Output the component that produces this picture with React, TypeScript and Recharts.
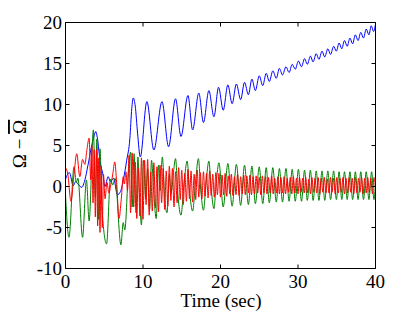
import React from 'react';
import { LineChart, Line, XAxis, YAxis } from 'recharts';

const xTicks = [0, 10, 20, 30, 40];
const yTicks = [-10, -5, 0, 5, 10, 15, 20];

const bluePts: [number, number][] = [
  [0, 0.9], [0.5, 1.7], [1.0, 0.1], [1.3, 0.6], [1.6, 0.3], [2.1, -0.1], [2.5, 0.8],
  [2.9, 2.6], [3.3, 4.6], [3.7, 6.2], [3.9, 6.7], [4.1, 6.0], [4.5, 2.8], [4.8, 1.6],
  [5.1, 0.0], [5.5, 1.2], [5.8, 0.6], [6.2, 1.0], [6.7, -1.0], [7.1, -0.6], [7.5, 1.0],
  [7.9, 3.2], [8.3, 5.8], [8.55, 9.5], [8.75, 10.8], [9.0, 9.8], [9.3, 6.5], [9.65, 3.6],
  [10.5, 10.35], [11.4, 4.45], [12.45, 10.35], [13.3, 4.85], [14.2, 10.7], [14.9, 6.1],
  [15.8, 11.1], [16.4, 6.9], [17.2, 11.4], [17.8, 7.8], [18.5, 11.7], [19.15, 8.5],
  [19.75, 12.1], [20.35, 9.3], [20.95, 12.4], [21.5, 10.1], [22.05, 12.5], [22.6, 10.6],
  [23.1, 12.7], [23.6, 11.2], [24.05, 13.1], [24.5, 11.7], [25.0, 13.5], [25.45, 12.3],
  [25.9, 13.8], [26.3, 12.8], [26.75, 14.1], [27.2, 13.2], [27.6, 14.4], [28.0, 13.6],
  [28.45, 14.6], [28.85, 13.9], [29.25, 14.9], [29.65, 14.3], [30.05, 15.3], [30.45, 14.6],
  [30.85, 15.6], [31.2, 14.9], [31.6, 15.9], [31.95, 15.2], [32.35, 16.2], [32.7, 15.5],
  [33.1, 16.5], [33.45, 15.8], [33.85, 16.8], [34.2, 16.1], [34.6, 17.1], [34.95, 16.5],
  [35.3, 17.5], [35.65, 16.8], [36.0, 17.8], [36.35, 17.1], [36.7, 18.1], [37.05, 17.4],
  [37.4, 18.5], [37.75, 17.8], [38.1, 18.8], [38.45, 18.1], [38.8, 19.2], [39.15, 18.5],
  [39.45, 19.6], [39.75, 18.9], [40.0, 19.8],
];

const greenPts: [number, number][] = [
  [0, -1.0], [0.45, -6.2], [1.1, 2.4], [1.4, 0.5], [1.6, 1.0], [2.2, -6.2], [2.7, 0.8],
  [3.05, -4.2], [3.6, 6.9], [3.85, -1.3], [4.05, 5.8], [4.25, -4.0], [4.45, 4.6], [4.7, -2.5],
  [5.3, -7.0], [5.8, 0.9], [6.1, 0.2], [6.4, 1.0], [7.15, -7.1], [7.45, -4.4], [7.65, -5.3],
  [8.1, 1.5], [8.4, 4.2], [8.6, -2.5], [8.85, 4.0], [9.1, -3.2], [9.35, 3.6], [9.55, -1.0],
  [9.8, -4.7], [10.05, 3.2], [10.35, -1.5], [10.6, 2.2], [10.85, -2.8], [11.1, 3.2],
  [11.4, -1.0], [11.7, -3.9], [12.0, 2.6], [12.2, -0.5], [12.5, 3.6], [12.8, -1.5],
  [13.1, -3.2], [13.4, 1.5], [13.6, -0.8], [14.2, 3.4], [14.5, -1.0], [14.9, -3.5],
  [15.3, 0.5], [15.7, 3.1], [16.0, -0.5], [16.4, -3.0], [16.8, 0.8], [17.15, 3.4],
  [17.45, -0.4], [17.8, -2.9], [18.15, 0.6], [18.5, 3.1], [18.8, -0.3], [19.15, -2.7],
  [19.45, 0.5], [19.8, 2.9], [20.35, -2.5], [20.95, 2.8], [21.5, -2.4], [22.05, 2.7],
  [22.6, -2.3], [23.1, 2.6], [23.6, -2.2], [24.05, 2.5], [24.5, -2.1], [25.0, 2.4],
  [25.45, -2.1], [25.9, 2.3], [26.3, -2.0], [26.75, 2.3], [27.2, -1.9], [27.6, 2.2],
  [28.0, -1.9], [28.45, 2.2], [28.85, -1.8], [29.25, 2.1], [29.65, -1.8], [30.05, 2.1],
  [30.45, -1.8], [30.85, 2.0], [31.2, -1.7], [31.6, 2.0], [31.95, -1.7], [32.35, 1.9],
  [32.7, -1.7], [33.1, 1.9], [33.45, -1.7], [33.85, 1.9], [34.2, -1.6], [34.6, 1.9],
  [34.95, -1.6], [35.3, 1.8], [35.65, -1.6], [36.0, 1.8], [36.35, -1.6], [36.7, 1.8],
  [37.05, -1.6], [37.4, 1.8], [37.75, -1.6], [38.1, 1.8], [38.45, -1.6], [38.8, 1.8],
  [39.15, -1.6], [39.5, 1.8], [39.8, -1.6], [40.0, 0.5],
];

const redEarlyPts: [number, number][] = [
  [0, 2.3], [0.3, 1.5], [0.7, -1.8], [1.1, 1.5], [1.45, 4.0], [1.85, 1.2], [2.2, 3.3],
  [2.5, 2.7], [2.75, 4.4], [3.05, 5.9], [3.25, 0.8], [3.4, 5.0], [3.55, -2.0], [3.7, 4.5],
  [3.85, -3.7], [4.0, 4.5], [4.15, -4.8], [4.3, 3.5], [4.45, -5.6], [4.6, 2.5], [4.75, -5.0],
  [4.9, 1.5], [5.1, -1.5], [5.35, 0.5], [5.6, -0.8], [5.85, 0.2], [6.1, 1.5], [6.35, 3.0],
  [6.6, 0.5], [6.9, -3.9], [7.2, -1.5], [7.45, 1.2], [7.6, 0.3], [7.8, 1.8],
];

const redLateStart = 8.0;
const redLateStep = 0.2;
const redLateValues: number[] = [
  -0.5, 3.8, -3.2, 4.1, -2.5, 3.0, -3.9, 2.2, -3.6, 3.5,
  -4.0, 3.2, -2.2, 3.3, -3.5, 1.8, -3.0, 2.9, -2.6, 2.4,
  -3.1, 2.6, -2.0, 2.2, -2.8, 1.9, -2.4, 2.5, -1.7, 2.2,
  -2.5, 1.8, -2.0, 2.3, -1.6, 2.0, -2.2, 1.6, -1.8, 2.1,
  -1.5, 1.9, -1.9, 1.5, -1.6, 2.0, -1.3, 1.7, -1.5, 1.8,
  -1.2, 1.6, -1.4, 1.9, -1.1, 1.5, -1.3, 1.7, -1.0, 1.6,
  -1.3, 1.4, -1.0, 1.6, -1.2, 1.3, -0.9, 1.5, -1.1, 1.2,
  -1.0, 1.5, -1.1, 1.2, -0.9, 1.4, -1.0, 1.3, -0.8, 1.4,
  -1.0, 1.2, -0.9, 1.3, -0.8, 1.1, -1.0, 1.3, -0.8, 1.2,
  -0.9, 1.1, -0.8, 1.3, -0.9, 1.0, -0.8, 1.2, -0.9, 1.1,
  -0.8, 1.2, -0.9, 1.0, -0.7, 1.1, -0.9, 1.2, -0.8, 1.0,
  -0.9, 1.1, -0.7, 1.0, -0.8, 1.1, -0.8, 0.9, -0.9, 1.1,
  -0.7, 1.0, -0.8, 1.1, -0.9, 1.0, -0.7, 1.1, -0.8, 0.9,
  -0.8, 1.1, -0.7, 1.0, -0.9, 1.1, -0.8, 1.0, -0.7, 1.1,
  -0.9, 1.0, -0.8, 1.1, -0.7, 1.0, -0.9, 1.1, -0.8, 1.0,
  -0.7, 1.1, -0.9, 1.0, -0.8, 1.1, -0.7, 1.0, -0.9, 1.1,
  -0.2,
];

const toRows = (pts: [number, number][]) => pts.map(([t, v]) => ({ t, v }));
const blueData = toRows(bluePts);
const greenData = toRows(greenPts);
const redData = [
  ...toRows(redEarlyPts),
  ...redLateValues.map((v, i) => ({ t: Number((redLateStart + i * redLateStep).toFixed(2)), v })),
];

const NoTick = () => null;
const FONT = "'Liberation Serif', 'Times New Roman', serif";
const tickStyle = { fill: '#000', fontSize: 19, style: { fontFamily: FONT } };

export default function App() {
  return (
    <div style={{ position: 'absolute', left: 0, top: 0, width: 415, height: 312, background: '#fff', fontFamily: FONT }}>
      <LineChart width={415} height={312} margin={{ top: 21.5, right: 38.5, bottom: 13.5, left: 35.5 }}
        style={{ fontFamily: FONT }}>
        <XAxis xAxisId="b" dataKey="t" type="number" domain={[0, 40]} ticks={xTicks} orientation="bottom"
          height={30} tickSize={-4} tickMargin={10} stroke="#000" tick={tickStyle} interval={0} allowDataOverflow />
        <XAxis xAxisId="top" dataKey="t" type="number" domain={[0, 40]} ticks={xTicks} orientation="top"
          height={1} tickSize={-4} stroke="#000" tick={<NoTick />} interval={0} allowDataOverflow />
        <YAxis yAxisId="l" type="number" domain={[-10, 20]} ticks={yTicks} width={30} tickSize={-4}
          tickMargin={7.5} stroke="#000" tick={tickStyle} interval={0} allowDataOverflow />
        <YAxis yAxisId="r" orientation="right" type="number" domain={[-10, 20]} ticks={yTicks} width={1}
          tickSize={-4} stroke="#000" tick={<NoTick />} interval={0} allowDataOverflow />
        <Line xAxisId="b" yAxisId="l" data={blueData} dataKey="v" type="monotone" stroke="#0000ff"
          strokeWidth={1} dot={false} activeDot={false} isAnimationActive={false} />
        <Line xAxisId="b" yAxisId="l" data={greenData} dataKey="v" type="monotone" stroke="#008000"
          strokeWidth={1} dot={false} activeDot={false} isAnimationActive={false} />
        <Line xAxisId="b" yAxisId="l" data={redData} dataKey="v" type="monotone" stroke="#ff0000"
          strokeWidth={1} dot={false} activeDot={false} isAnimationActive={false} />
      </LineChart>
      <svg width={415} height={312} style={{ position: 'absolute', left: 0, top: 0, pointerEvents: 'none', fontFamily: FONT }}>
        <text x={221} y={307} textAnchor="middle" fontSize={19} fill="#000" style={{ fontFamily: FONT }}>Time (sec)</text>
        <text transform="translate(26,144) rotate(-90)" textAnchor="middle" fontSize={19} fill="#000" style={{ fontFamily: FONT }}>
          <tspan>{'Ω − '}</tspan>
          <tspan style={{ textDecoration: 'overline' }}>Ω</tspan>
        </text>
      </svg>
    </div>
  );
}
